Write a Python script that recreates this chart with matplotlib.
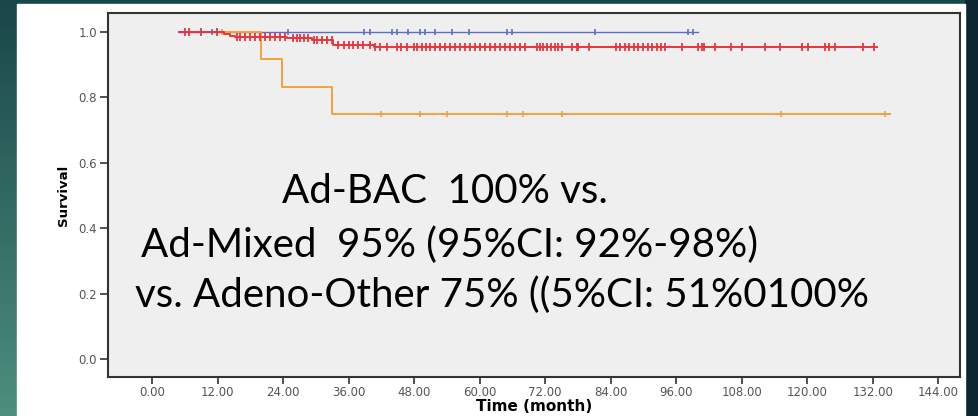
import numpy as np
import matplotlib
matplotlib.use("Agg")
import matplotlib.pyplot as plt
from matplotlib.patches import Rectangle

# curvas Kaplan-Meier
bac_start, bac_end = 5.0, 100.0
bac_cens = [10.9, 24.9, 38.8, 39.9, 43.9, 44.8, 46.8, 49.0, 50.0, 51.9, 54.9,
            58.1, 65.0, 66.0, 81.1, 98.2, 99.1]

mix_t = [5.0, 13.1, 14.3, 15.2, 24.7, 29.3, 33.2, 40.6]
mix_s = [1.0, 0.994, 0.989, 0.985, 0.981, 0.976, 0.961, 0.954]
mix_end = 132.8
mix_cens = [6.0, 6.8, 8.9, 11.9, 15.6, 16.1, 17.0, 18.0, 18.9, 19.8, 20.7, 21.6,
            22.5, 23.5, 24.4, 25.9, 26.5, 27.1, 27.8, 28.6, 29.6, 30.2, 31.1,
            32.0, 32.9, 34.1, 35.1, 36.0, 36.9, 37.8, 38.7, 39.9, 40.9, 41.8,
            43.0, 44.8, 45.7, 46.7, 47.9, 48.6, 49.4, 50.2, 50.9, 51.9, 52.8,
            53.7, 54.6, 55.5, 56.4, 57.3, 58.3, 59.2, 60.1, 61.0, 61.9, 62.8,
            63.8, 64.7, 65.6, 66.5, 67.4, 68.3, 70.5, 71.1, 71.7, 72.3, 73.0,
            73.8, 74.4, 75.1, 76.9, 77.8, 78.1, 80.1, 84.9, 85.7, 86.6, 87.3,
            88.2, 89.1, 90.0, 90.9, 91.6, 92.5, 93.3, 94.0, 97.0, 100.1, 100.7,
            101.1, 103.2, 106.1, 108.0, 112.3, 115.1, 119.1, 120.1, 123.2,
            124.0, 125.1, 130.2, 132.3]

oth_t = [12.8, 19.9, 23.9, 32.9]
oth_s = [1.0, 0.917, 0.833, 0.75]
oth_end = 135.2
oth_cens = [12.8, 42.0, 49.0, 54.0, 65.0, 68.0, 75.1, 115.2, 134.3]

xticks = np.arange(0, 145, 12)
yticks = np.arange(0, 1.01, 0.2)

linea1 = "Ad-BAC  100% vs."
linea2 = "Ad-Mixed  95% (95%CI: 92%-98%)"
linea3 = "vs. Adeno-Other 75% ((5%CI: 51%0100%"

W, H = 979, 416
fig = plt.figure(figsize=(W/100, H/100), dpi=100)

# fondo de la diapositiva
bg = fig.add_axes([0, 0, 1, 1], zorder=-2)
grad = np.linspace(0, 1, 100)[:, None]
bg.imshow(grad, cmap=matplotlib.colors.LinearSegmentedColormap.from_list(
    "teal", ["#1a4749", "#4d8e7e"]), aspect="auto", extent=[0, 1, 0, 1],
    origin="upper")
bg.add_patch(Rectangle((965/W, 0), 1, 1, color="#0c2631"))
bg.add_patch(Rectangle((17/W, 0), (965-17)/W, (H-4)/H, color="white"))
bg.set_xlim(0, 1); bg.set_ylim(0, 1)
bg.axis("off")

ax = fig.add_axes([108/W, 39/H, (960-108)/W, (403-39)/H])
ax.set_facecolor("#efefef")


def km(t, s, end):
    x = list(t) + [end]
    y = list(s) + [s[-1]]
    return x, y


def surv_at(ct, t, s):
    idx = np.searchsorted(t, ct, side="right") - 1
    return np.array(s)[np.clip(idx, 0, None)]


blue, red, orange = "#5a6fc2", "#e8353c", "#f4a23c"

ax.plot([bac_start, bac_end], [1.0, 1.0], color=blue, lw=1.0, zorder=2)
ax.plot(bac_cens, np.ones(len(bac_cens)), ls="none", marker="|", ms=5,
        mew=1.2, color=blue, zorder=2)

x, y = km(oth_t, oth_s, oth_end)
ax.step(x, y, where="post", color=orange, lw=1.4, zorder=3)
ax.plot(oth_cens, surv_at(oth_cens, oth_t, oth_s), ls="none", marker="|",
        ms=5, mew=1.2, color=orange, zorder=3)

x, y = km(mix_t, mix_s, mix_end)
ax.step(x, y, where="post", color=red, lw=1.4, zorder=4)
ax.plot(mix_cens, surv_at(mix_cens, mix_t, mix_s), ls="none", marker="|",
        ms=6, mew=1.3, color=red, zorder=4)

ax.set_xlim(-8.06, 148.0)
ax.set_ylim(-0.055, 1.058)
ax.set_xticks(xticks)
ax.set_xticklabels([f"{v:.2f}" for v in xticks])
ax.set_yticks(yticks)
ax.set_yticklabels([f"{v:.1f}" for v in yticks])
ax.tick_params(direction="out", length=6, width=1.2, colors="#333333",
               labelsize=8.5, labelcolor="#555555", pad=2)
ax.tick_params(axis="x", length=5, pad=1.5)
for sp in ax.spines.values():
    sp.set_color("#333333")
    sp.set_linewidth(1.5)

ax.set_xlabel("Time (month)", fontsize=11, fontweight="bold", labelpad=0)
ax.set_ylabel("Survival", fontsize=9.5, fontweight="bold", labelpad=6)

kw = dict(fontsize=29, family="Lato", fontweight="normal", color="black",
          ha="center", va="baseline")
fig.text(445/W, 1 - 203/H, linea1, **kw)
fig.text(450/W, 1 - 257/H, linea2, **kw)
fig.text(502/W, 1 - 307/H, linea3, **kw)

fig.savefig("out.png", dpi=100)
